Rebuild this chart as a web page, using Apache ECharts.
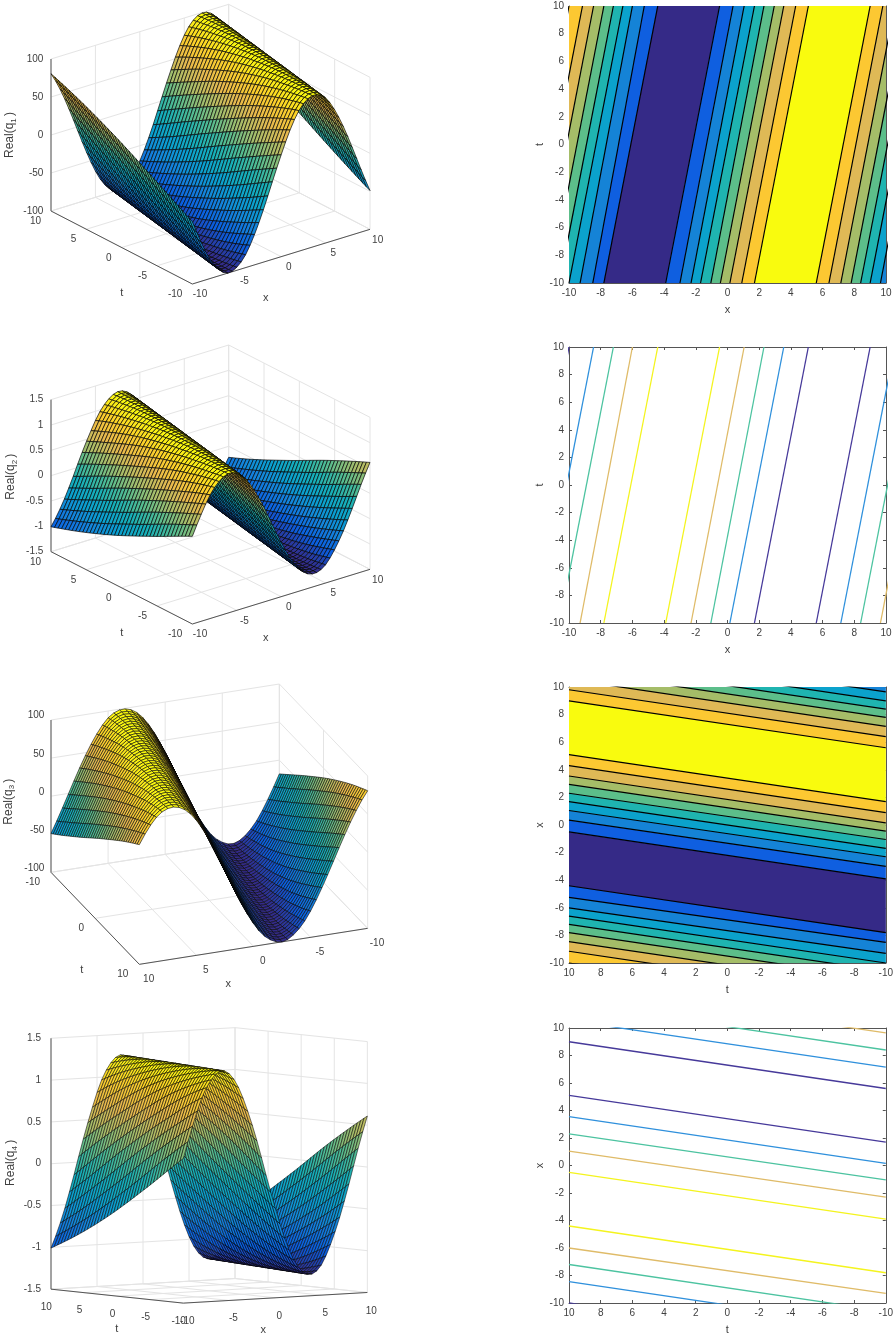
<!DOCTYPE html>
<html><head><meta charset="utf-8">
<style>html,body{margin:0;padding:0;background:#fff}#c{width:896px;height:1339px}</style>
<script src="https://cdn.jsdelivr.net/npm/echarts@6/dist/echarts.min.js"></script>
</head><body><div id="c"></div>
<script>
// ---------- values ----------
// wave profile: phase = x at t=-10
const wavePhase = [-15,-14,-13,-12,-11,-10,-9,-8,-7,-6,-5,-4,-3,-2,-1,0,1,2,3,4,5,6,7,8,9,10,11,12];
const q1Values = [99,91,72,46,15,-18,-49,-75,-92,-100,-96,-83,-60,-31,2,34,63,85,97,99,91,72,46,15,-18,-49,-75,-92];
const q3Values = [99,91,72,46,15,-18,-49,-75,-92,-100,-96,-83,-60,-31,2,34,63,85,97,99,91,72,46,15,-18,-49,-75,-92];
const q2Values = [-1.24,-1.14,-0.9,-0.58,-0.19,0.23,0.61,0.94,1.15,1.25,1.21,1.04,0.75,0.39,-0.03,-0.43,-0.79,-1.06,-1.21,-1.24,-1.14,-0.9,-0.58,-0.19,0.23,0.61,0.94,1.15];
const q4Values = [-1.24,-1.14,-0.9,-0.58,-0.19,0.23,0.61,0.94,1.15,1.25,1.21,1.04,0.75,0.39,-0.03,-0.43,-0.79,-1.06,-1.21,-1.24,-1.14,-0.9,-0.58,-0.19,0.23,0.61,0.94,1.15];
const phaseDrift = 3.4; // x shift of a crest between t=-10 and t=10
// filled contour boundaries: x at t=10 and at t=-10
const fillAtT10  = [-10,-9.15,-8.45,-7.8,-7.2,-6.6,-6,-5.25,-4.4,-0.5,0.35,1.05,1.7,2.3,2.95,3.55,4.3,5.1,9,9.8,10.55,11.2,11.8,12.4,13,13.75,14.6];
const fillAtTm10 = [-13.4,-12.55,-11.85,-11.2,-10.6,-10,-9.3,-8.5,-7.8,-3.9,-3,-2.3,-1.7,-1.05,-0.45,0.15,0.9,1.7,5.6,6.4,7.15,7.8,8.4,9,9.65,10.35,11.2];
const fillBandLevel = [8,7,6,5,4,3,2,1,0,1,2,3,4,5,6,7,8,9,8,7,6,5,4,3,2,1];
// contour lines: x at t=10, at t=-10, level
const lineAtT10  = [-10,-8.45,-7.2,-6,-4.4,-0.5,1.05,2.3,3.55,5.1,9,10.55,11.8,13];
const lineAtTm10 = [-13.4,-11.85,-10.6,-9.3,-7.8,-3.9,-2.3,-1.05,0.15,1.7,5.6,7.15,8.4,9.65];
const lineLevel  = [0,1,2,3,4,4,3,2,1,0,0,1,2,3];
// ticks
const xyTicks = [-10,-5,0,5,10];
const xyTicksSparse = [-10,0,10];
const zTicksLarge = [-100,-50,0,50,100];
const zTicksSmall = [-1.5,-1,-0.5,0,0.5,1,1.5];

// ---------- styling ----------
const bandColors = ['#352a87','#0f5fe0','#1583d6','#0ba2cc','#1fb4b0','#5cbe8a','#a5bd68','#dfb956','#fcc832','#f9fb0e'];
const lineColors = ['#46399a','#2f90dc','#4cc3a0','#dfbb68','#f4f41e'];
const parula = ['#352a87','#0a5fe0','#1483dc','#0aa0d0','#17b0b8','#55bc90','#a8bd6a','#e8b94e','#fcd02a','#f9fb0e'];
const FONT = '"Liberation Sans", Arial, sans-serif';
const TXT = '#404040', AX = '#555555', WALL = '#e4e4e4';

function hex(c){return [1,3,5].map(i=>parseInt(c.substr(i,2),16));}
function cmap(v){
  const p=Math.max(0,Math.min(1,v))*(parula.length-1), i=Math.min(parula.length-2,Math.floor(p)), f=p-i;
  const a=hex(parula[i]),b=hex(parula[i+1]);
  return 'rgb('+a.map((q,k)=>Math.round(q+(b[k]-q)*f)).join(',')+')';
}
function profileAt(vals,s){
  let i=1; while(i<wavePhase.length-3 && wavePhase[i+1]<s) i++;
  const f=(s-wavePhase[i])/(wavePhase[i+1]-wavePhase[i]);
  const p0=vals[i-1],p1=vals[i],p2=vals[i+1],p3=vals[i+2];
  return 0.5*((2*p1)+(-p0+p2)*f+(2*p0-5*p1+4*p2-p3)*f*f+(-p0+3*p1-3*p2+p3)*f*f*f);
}

const option={animation:false,backgroundColor:'#fff',grid:[],xAxis:[],yAxis:[],series:[]};

// ---------- 2D panels ----------
function addAxes2D(top,height,xName,yName,inverseX){
  const g=option.grid.length;
  option.grid.push({left:569,width:317,top:top,height:height,show:false});
  const base={type:'value',min:-10,max:10,interval:2,gridIndex:g,splitLine:{show:false},
    axisLine:{onZero:false,lineStyle:{color:AX,width:1}},axisTick:{inside:true,length:3,lineStyle:{color:AX}},
    axisLabel:{color:TXT,fontSize:10,fontFamily:FONT,margin:5},nameTextStyle:{color:TXT,fontSize:11,fontFamily:FONT},nameLocation:'middle'};
  const xi=option.xAxis.length, yi=option.yAxis.length;
  option.xAxis.push(Object.assign({},base,{position:'bottom',inverse:inverseX,name:xName,nameGap:21}));
  option.xAxis.push(Object.assign({},base,{position:'top',inverse:inverseX,axisLabel:{show:false}}));
  option.yAxis.push(Object.assign({},base,{position:'left',name:yName,nameGap:23}));
  option.yAxis.push(Object.assign({},base,{position:'right',axisLabel:{show:false}}));
  return {xi,yi};
}
function addFill(ax,swap){
  option.series.push({type:'custom',xAxisIndex:ax.xi,yAxisIndex:ax.yi,clip:true,progressive:0,silent:true,z:1,
    data:fillBandLevel.map((lv,k)=>[fillAtTm10[k],fillAtT10[k],fillAtTm10[k+1],fillAtT10[k+1],lv]),
    renderItem:function(p,api){
      const a=api.value(0),b=api.value(1),c=api.value(2),d=api.value(3);
      const raw=[[a,-10],[b,10],[d,10],[c,-10]];
      const pts=raw.map(q=>api.coord(swap?[q[1],q[0]]:q));
      return {type:'polygon',shape:{points:pts},style:{fill:bandColors[api.value(4)],stroke:bandColors[api.value(4)],lineWidth:0.5}};
    }});
}
function addLines(ax,swap,atBottom,atTop,colorOf,width){
  atBottom.forEach((b,k)=>{
    const d=swap?[[-10,b],[10,atTop[k]]]:[[b,-10],[atTop[k],10]];
    option.series.push({type:'line',xAxisIndex:ax.xi,yAxisIndex:ax.yi,data:d,symbol:'none',clip:true,silent:true,z:2,
      lineStyle:{color:colorOf(k),width:width}});
  });
}
const a1=addAxes2D(6,277,'x','t',false);
addFill(a1,false); addLines(a1,false,fillAtTm10,fillAtT10,()=> '#000',1.2);
const a2=addAxes2D(347,276,'x','t',false);
addLines(a2,false,lineAtTm10,lineAtT10,k=>lineColors[lineLevel[k]],1.3);
const a3=addAxes2D(687,276,'t','x',true);
addFill(a3,true); addLines(a3,true,fillAtTm10,fillAtT10,()=> '#000',1.2);
const a4=addAxes2D(1028,275,'t','x',true);
addLines(a4,true,lineAtTm10,lineAtT10,k=>lineColors[lineLevel[k]],1.3);

// ---------- 3D panels (orthographic view through a hidden pixel grid) ----------
const panels3D=[
 {top:0,  vals:q1Values,label:'1',zr:[-100,100],cr:[-100,100],nx:-10,nt:-10,B:[577,852],L:[153,633],R:[1110,688],h:456,
  xt:xyTicks,tt:xyTicks,zt:zTicksLarge,zf:v=>String(v),tOff:[-30,31],tAlign:'right',xOff:[23,32],zOff:[-23,0],
  tName:[365,880],xName:[797,893],yName:[30,405],step:0.5,mesh:0.7},
 {top:340,vals:q2Values,label:'2',zr:[-1.5,1.5],cr:[-1.25,1.25],nx:-10,nt:-10,B:[577,852],L:[153,635],R:[1110,688],h:456,
  xt:xyTicks,tt:xyTicks,zt:zTicksSmall,zf:v=>String(v),tOff:[-30,31],tAlign:'right',xOff:[23,32],zOff:[-23,0],
  tName:[365,880],xName:[797,893],yName:[33,410],step:0.5,mesh:0.7},
 {top:680,vals:q3Values,label:'3',zr:[-100,100],cr:[-100,100],nx:10,nt:10,B:[418,853],L:[153,577],R:[1103,745],h:457,
  xt:xyTicks,tt:xyTicksSparse,zt:zTicksLarge,zf:v=>String(v),tOff:[-33,30],tAlign:'right',xOff:[28,46],zOff:[-20,-13],
  tName:[245,870],xName:[685,912],yName:[25,365],step:0.5,mesh:0.6},
 {top:1020,vals:q4Values,label:'4',zr:[-1.5,1.5],cr:[-1.25,1.25],nx:-10,nt:-10,B:[550,852],L:[153,810],R:[1102,820],h:755,
  xt:xyTicks,tt:xyTicks,zt:zTicksSmall,zf:v=>String(v),tOff:[-14,54],tAlign:'center',xOff:[12,55],zOff:[-30,0],
  tName:[350,930],xName:[790,932],yName:[33,430],step:0.5,mesh:0.55}
];
panels3D.forEach(P=>{
  const g=option.grid.length;
  option.grid.push({left:0,top:P.top,width:400,height:320,show:false});
  const xi=option.xAxis.length, yi=option.yAxis.length;
  option.xAxis.push({type:'value',gridIndex:g,min:0,max:1200,show:false});
  option.yAxis.push({type:'value',gridIndex:g,min:0,max:960,inverse:true,show:false});
  const proj=(x,t,z)=>{
    const a=(x-P.nx)/(-2*P.nx), b=(t-P.nt)/(-2*P.nt), c=(z-P.zr[0])/(P.zr[1]-P.zr[0]);
    return [P.B[0]+a*(P.R[0]-P.B[0])+b*(P.L[0]-P.B[0]), P.B[1]+a*(P.R[1]-P.B[1])+b*(P.L[1]-P.B[1])-c*P.h];
  };
  const zlo=P.zr[0], zhi=P.zr[1], fx=-P.nx, ft=-P.nt, nx=P.nx, nt=P.nt;
  // frame: walls, floor grid, axis lines
  const frame=[];
  const seg=(p,q,kind)=>frame.push([p[0],p[1],p[2],q[0],q[1],q[2],kind]);
  P.xt.forEach(x=>{ seg([x,nt,zlo],[x,ft,zlo],0); seg([x,ft,zlo],[x,ft,zhi],0); });
  P.tt.forEach(t=>{ seg([nx,t,zlo],[fx,t,zlo],0); seg([fx,t,zlo],[fx,t,zhi],0); });
  P.zt.forEach(z=>{ seg([nx,ft,z],[fx,ft,z],0); seg([fx,ft,z],[fx,nt,z],0); });
  seg([nx,ft,zlo],[nx,ft,zhi],1); seg([nx,ft,zlo],[nx,nt,zlo],1); seg([nx,nt,zlo],[fx,nt,zlo],1);
  option.series.push({type:'custom',xAxisIndex:xi,yAxisIndex:yi,silent:true,progressive:0,z:1,data:frame,
    renderItem:function(p,api){
      const A=proj(api.value(0),api.value(1),api.value(2)),C=proj(api.value(3),api.value(4),api.value(5));
      const k=api.value(6);
      return {type:'line',shape:{x1:api.coord(A)[0],y1:api.coord(A)[1],x2:api.coord(C)[0],y2:api.coord(C)[1]},
        style:{stroke:k?AX:WALL,lineWidth:1}};
    }});
  // surface cells, far to near
  const cells=[], n=Math.round(20/P.step);
  const zAt=(x,t)=>profileAt(P.vals,x-phaseDrift*(t+10)/20);
  for(let i=0;i<n;i++){ const x0=fx+(nx-fx)*i/n, x1=fx+(nx-fx)*(i+1)/n;
    for(let j=0;j<n;j++){ const t0=ft+(nt-ft)*j/n, t1=ft+(nt-ft)*(j+1)/n;
      cells.push([x0,x1,t0,t1,zAt(x0,t0),zAt(x1,t0),zAt(x1,t1),zAt(x0,t1)]);
    }}
  const cl=P.cr[0], cw=P.cr[1]-P.cr[0], mesh=P.mesh;
  option.series.push({type:'custom',xAxisIndex:xi,yAxisIndex:yi,silent:true,progressive:0,z:2,data:cells,
    renderItem:function(p,api){
      const x0=api.value(0),x1=api.value(1),t0=api.value(2),t1=api.value(3);
      const z=[api.value(4),api.value(5),api.value(6),api.value(7)];
      const pts=[proj(x0,t0,z[0]),proj(x1,t0,z[1]),proj(x1,t1,z[2]),proj(x0,t1,z[3])].map(q=>api.coord(q));
      const fill=cmap(((z[0]+z[1]+z[2]+z[3])/4-cl)/cw);
      return {type:'polygon',shape:{points:pts},style:{fill:fill,stroke:'#060606',lineWidth:mesh}};
    }});
  // labels
  const labels=[];
  P.zt.forEach(z=>{const q=proj(nx,ft,z); labels.push({x:q[0]+P.zOff[0],y:q[1]+P.zOff[1],t:P.zf(z),a:'right'});});
  P.tt.forEach(t=>{const q=proj(nx,t,zlo); labels.push({x:q[0]+P.tOff[0],y:q[1]+P.tOff[1],t:String(t),a:P.tAlign});});
  P.xt.forEach(x=>{const q=proj(x,nt,zlo); labels.push({x:q[0]+P.xOff[0],y:q[1]+P.xOff[1],t:String(x),a:'center'});});
  labels.push({x:P.tName[0],y:P.tName[1],t:'t',a:'center',s:11});
  labels.push({x:P.xName[0],y:P.xName[1],t:'x',a:'center',s:11});
  labels.push({x:P.yName[0],y:P.yName[1],t:'Real(q{s|'+P.label+'}{s| })',a:'center',s:12,rot:true});
  option.series.push({type:'custom',xAxisIndex:xi,yAxisIndex:yi,silent:true,progressive:0,z:3,clip:false,
    data:labels.map((l,i)=>[i]),
    renderItem:function(p,api){
      const l=labels[api.value(0)], c=api.coord([l.x,l.y]);
      return {type:'text',x:c[0],y:c[1],rotation:l.rot?Math.PI/2:0,
        style:{text:l.t,fill:TXT,fontSize:l.s||10,fontFamily:FONT,align:l.a,verticalAlign:'middle',
          rich:l.rot?{s:{fontSize:8,fontFamily:FONT,fill:TXT,padding:[7,0,0,0]}}:undefined}};
    }});
});

const chart=echarts.init(document.getElementById('c'),null,{renderer:'canvas'});
chart.setOption(option);
</script></body></html>
